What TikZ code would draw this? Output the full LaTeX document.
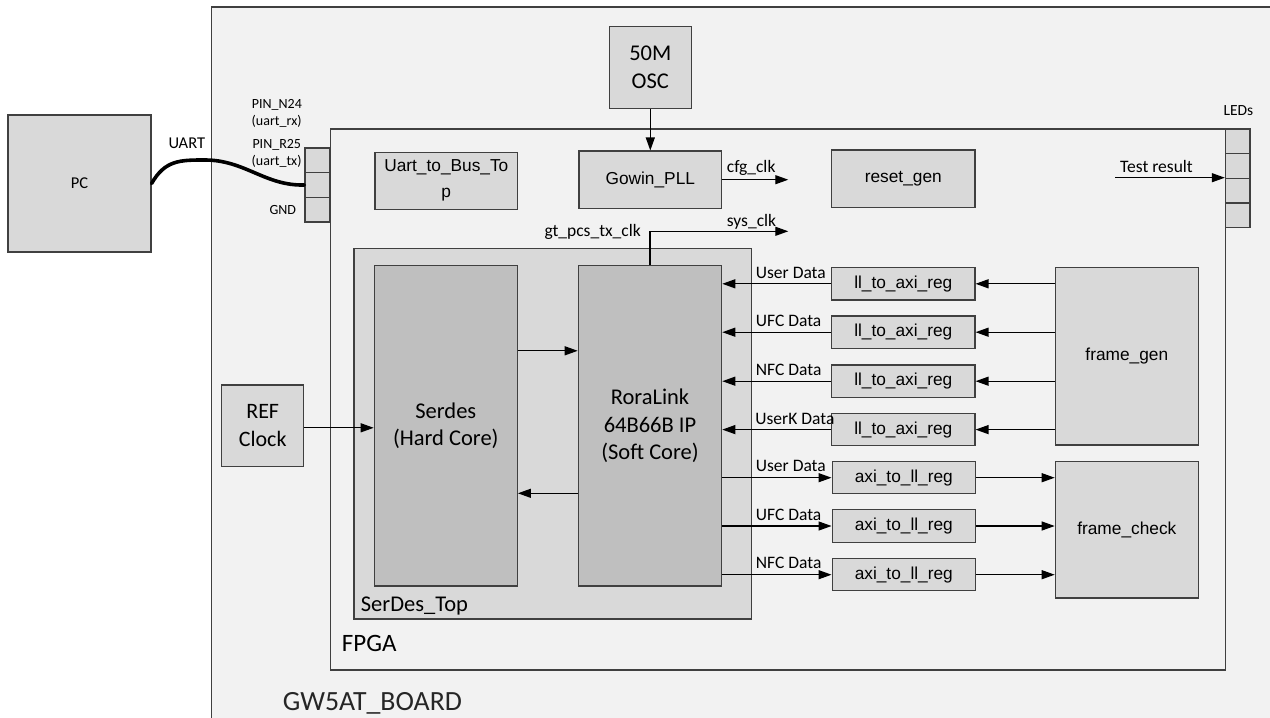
\documentclass[tikz,border=0pt]{standalone}
\usepackage{fontspec}
\setmainfont{Carlito}
\newfontfamily\arialf{Liberation Sans}
\usetikzlibrary{arrows.meta,calc}
\definecolor{boardfill}{HTML}{F2F2F2}
\definecolor{boxfill}{HTML}{D9D9D9}
\definecolor{darkfill}{HTML}{BFBFBF}
\definecolor{edgecol}{HTML}{404040}
\begin{document}
\begin{tikzpicture}[x=1pt,y=-1pt,
  frame/.style={draw=edgecol, line width=1.2pt},
  blk/.style={frame, fill=boxfill, inner sep=0pt, align=center},
  blkA/.style={blk, font=\arialf\fontsize{17.3}{26}\selectfont},
  blkC/.style={blk, font=\fontsize{22.5}{27.5}\selectfont},
  reg/.style={blkA, minimum width=143.3pt, minimum height=32.3pt},
  cell/.style={frame, fill=boxfill, minimum width=24.5pt, minimum height=24.5pt, inner sep=0pt},
  arr/.style={line width=1.2pt, -{Triangle[length=13pt,width=9pt]}},
  sig/.style={font=\fontsize{17.5}{19}\selectfont, inner sep=0pt, anchor=base west},
  pinlbl/.style={font=\fontsize{14}{16}\selectfont, inner sep=0pt, anchor=base west},
  big/.style={inner sep=0pt, anchor=base west},
]
\useasboundingbox (0,0) rectangle (1270,718);
\clip (0,0) rectangle (1270,718);
% board
\fill[white] (0,0) rectangle (1270,718);
\draw[frame, fill=boardfill] (211.5,7) rectangle (1300,740);
% FPGA
\draw[frame, fill=boardfill] (330.5,129) rectangle (1225.5,670);
\node[big, font=\fontsize{25}{28}\selectfont] (fpgalbl) at (341.7,651.7) {FPGA};
\node[big, font=\fontsize{27.8}{30}\selectfont, text=black!85] (boardlbl) at (282.7,710) {GW5AT\_BOARD};

% PC
\node[blk, font=\fontsize{16.5}{20}\selectfont, minimum width=143pt, minimum height=137pt] (pc) at (79.5,183.5) {PC};
% pins
\node[cell] (pin1) at (317.2,160.3) {};
\node[cell] (pin2) at (317.2,185) {};
\node[cell] (pin3) at (317.2,209.7) {};
\node[pinlbl] (l1) at (251.7,108.3) {PIN\_N24};
\node[pinlbl] (l2) at (251.5,125.5) {(uart\_rx)};
\node[pinlbl] (l3) at (252.3,148.3) {PIN\_R25};
\node[pinlbl] (l4) at (251.5,165) {(uart\_tx)};
\node[pinlbl] (l5) at (269.3,214.3) {GND};
\node[big, font=\fontsize{16.5}{18}\selectfont] (uartlbl) at (168.3,148.3) {UART};
\draw[line width=3.6pt, line cap=round] (pc.east) .. controls (165,160) and (180,160) .. (205,160) .. controls (245,160) and (265,186) .. (pin2.west);

% LEDs
\node[cell] (led1) at (1237.7,141.3) {};
\node[cell] (led2) at (1237.7,166) {};
\node[cell] (led3) at (1237.7,190.5) {};
\node[cell] (led4) at (1237.7,215.3) {};
\node[pinlbl, font=\fontsize{15.5}{18}\selectfont] (ledlbl) at (1223.3,115.7) {LEDs};
\coordinate (trstart) at (1115,177.7);
\draw[arr] (trstart) -- (trstart -| led2.west);
\node[sig] (trlbl) at (1120,172.3) {Test result};

% top blocks
\node[blkC, minimum width=82pt, minimum height=82pt] (osc) at (650.3,67.3) {50M\\OSC};
\node[blkA, minimum width=142.7pt, minimum height=57pt] (uart) at (446.3,180.8) {Uart\_to\_Bus\_To\\p};
\node[blkA, minimum width=142.7pt, minimum height=57.3pt] (pll) at (650.3,179.7) {Gowin\_PLL};
\node[blkA, minimum width=143.3pt, minimum height=57.3pt] (rst) at (903.3,178.7) {reset\_gen};
\draw[arr] (osc.south) -- (pll.north);
\coordinate (cfgend) at (788.3,179.7);
\draw[arr] (pll.east) -- (cfgend);
\node[sig] (cfglbl) at (726.7,172.5) {cfg\_clk};

% SerDes_Top
\node[frame, fill=boxfill, minimum width=397.7pt, minimum height=370.7pt, inner sep=0pt] (sdtop) at (552.85,433.65) {};
\node[big, font=\fontsize{22.5}{26}\selectfont] (sdlbl) at (360.7,611) {SerDes\_Top};
\node[blkC, fill=darkfill, minimum width=143pt, minimum height=320.3pt] (serdes) at (445.8,425.8) {Serdes\\(Hard Core)};
\node[blkC, fill=darkfill, minimum width=143.4pt, minimum height=320.3pt] (rora) at (650,425.8) {RoraLink\\64B66B IP\\(Soft Core)};
\draw[arr] ([yshift=75pt]serdes.east) -- ([yshift=75pt]rora.west);
\draw[arr] ([yshift=-67.5pt]rora.west) -- ([yshift=-67.5pt]serdes.east);

% sys_clk
\coordinate (sysend) at (788.3,231.3);
\draw[arr] (rora.north) -- (rora.north |- sysend) -- (sysend);
\node[sig] (syslbl) at (726.7,226.7) {sys\_clk};
\node[sig, anchor=base east] (gtlbl) at (641,236) {gt\_pcs\_tx\_clk};

% REF clock
\node[blkC, font=\fontsize{22}{28}\selectfont, minimum width=82pt, minimum height=81.7pt] (ref) at (262.7,425.8) {REF\\Clock};
\draw[arr] ([yshift=-2pt]ref.east) -- ([yshift=-2pt]ref.east -| serdes.west);

% frame_gen & regs
\node[blkA, minimum width=143pt, minimum height=177.3pt] (fg) at (1126.8,356.3) {frame\_gen};
\node[blkA, minimum width=143pt, minimum height=136.3pt] (fc) at (1126.8,529.8) {frame\_check};

\node[reg] (ll1) at (903.3,283.8) {ll\_to\_axi\_reg};
\node[reg] (ll2) at (903.3,332.2) {ll\_to\_axi\_reg};
\node[reg] (ll3) at (903.3,381.2) {ll\_to\_axi\_reg};
\node[reg] (ll4) at (903.3,429.6) {ll\_to\_axi\_reg};
\node[reg] (ax1) at (903.8,477.7) {axi\_to\_ll\_reg};
\node[reg] (ax2) at (903.8,526) {axi\_to\_ll\_reg};
\node[reg] (ax3) at (903.8,574.7) {axi\_to\_ll\_reg};

\foreach \r in {ll1,ll2,ll3,ll4}{
  \draw[arr] (fg.west |- \r.east) -- (\r.east);
  \draw[arr] (\r.west) -- (\r.west -| rora.east);
}
\foreach \r in {ax1,ax2,ax3}{
  \draw[arr] (rora.east |- \r.west) -- (\r.west);
  \draw[arr] (\r.east) -- (\r.east -| fc.west);
}
\node[sig] (d1) at (755.7,278.3) {User Data};
\node[sig] (d2) at (755.7,326.7) {UFC Data};
\node[sig] (d3) at (755.7,375.5) {NFC Data};
\node[sig] (d4) at (755.2,424) {UserK Data};
\node[sig] (d5) at (755.7,471.7) {User Data};
\node[sig] (d6) at (755.7,520) {UFC Data};
\node[sig] (d7) at (755.7,568.5) {NFC Data};
\end{tikzpicture}
\end{document}
